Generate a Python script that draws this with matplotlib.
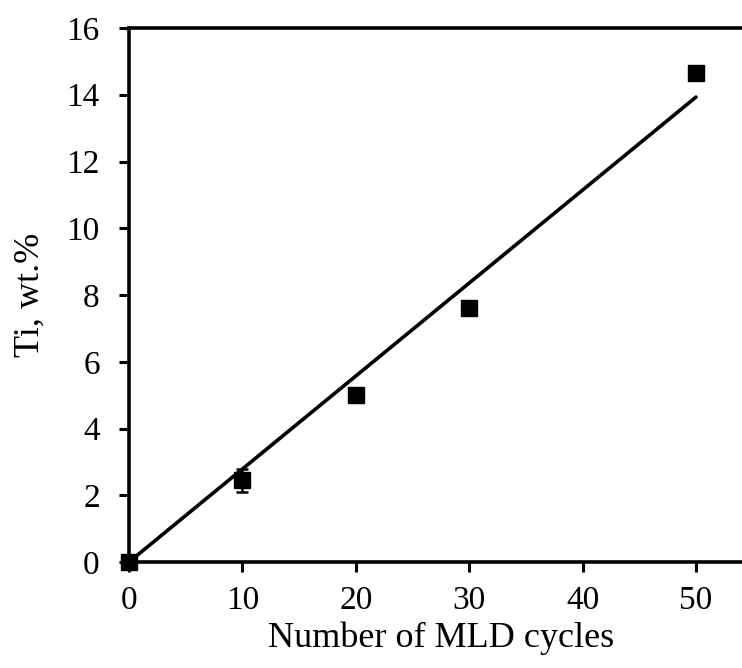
import matplotlib.pyplot as plt

# data
cycles = [0, 10, 20, 30, 50]
ti_wt = [0.0, 2.45, 5.0, 7.6, 14.65]
ti_err = [0.1, 0.35, 0.1, 0.1, 0.1]

# linear fit line
fit_x = [0, 50]
fit_y = [0.0, 13.93]

plt.rcParams['font.family'] = ['Liberation Serif', 'DejaVu Serif']

fig = plt.figure(figsize=(7.42, 6.68), dpi=100)
W, H = 742, 668
left, right = 129, 129 + 55 * 11.34
top, bottom = 28, 562
ax = fig.add_axes([left / W, 1 - bottom / H, (right - left) / W, (bottom - top) / H])

ax.plot(fit_x, fit_y, color='black', lw=2.6, solid_capstyle='round', zorder=2)
ax.errorbar(cycles, ti_wt, yerr=ti_err, fmt='s', color='black', ms=12,
            elinewidth=1.8, capsize=4, capthick=1.8, zorder=3, clip_on=False)

ax.set_xlim(0, 55)
ax.set_ylim(0, 16)
ax.set_xticks([0, 10, 20, 30, 40, 50])
ax.set_yticks(range(0, 17, 2))

for s in ['left', 'bottom', 'top']:
    ax.spines[s].set_linewidth(2.6)
ax.spines['right'].set_visible(False)
ax.tick_params(direction='out', length=7, width=2.2, labelsize=24)
ax.tick_params(axis='x', pad=10)
ax.tick_params(axis='y', pad=14)

ax.set_xlabel("Number of MLD cycles", fontsize=26, labelpad=4)
ax.set_ylabel("Ti, wt.%", fontsize=26, labelpad=14)

fig.savefig("out.png", dpi=100)
